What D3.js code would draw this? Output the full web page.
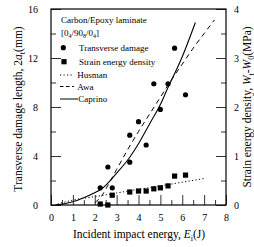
<!DOCTYPE html>
<html><head><meta charset="utf-8">
<script src="https://cdn.jsdelivr.net/npm/d3@7"></script>
<style>body{margin:0;background:#fff;} svg{display:block;} text{font-family:"Liberation Serif","Times New Roman",serif;fill:#000;}</style>
</head><body>
<svg id="c" width="254" height="247"></svg>
<script>
// Transverse damage (circles): impact energy (J) and 2a_t (mm)
const damageE = [2.25, 2.6, 2.8, 3.6, 3.6, 4.0, 4.35, 4.7, 5.0, 5.35, 5.65, 6.15];
const damageA = [1.4, 3.1, 1.4, 3.5, 5.7, 6.8, 4.9, 9.9, 7.8, 9.9, 12.8, 9.0];
// Strain energy density (squares): impact energy (J) and W (MPa)
const sedE = [2.25, 2.6, 2.8, 3.6, 4.0, 4.35, 4.7, 5.0, 5.35, 5.65, 6.15];
const sedW = [0.02, 0.0, 0.2, 0.265, 0.285, 0.285, 0.33, 0.35, 0.39, 0.59, 0.61];
// Husman (dotted, right axis, MPa)
const husmanE = [0.3, 1, 2, 3, 4, 5, 6, 7];
const husmanW = [0.02, 0.1, 0.17, 0.245, 0.32, 0.39, 0.465, 0.54];
// Awa (dashed, left axis, mm)
const awaE = [2.0, 2.3, 2.6, 3.0, 3.5, 4.0, 4.5, 5.0, 5.5, 6.0, 6.5, 7.0, 7.47];
const awaA = [0.2, 0.7, 1.6, 2.9, 4.5, 6.0, 7.4, 8.8, 10.2, 11.5, 12.8, 14.0, 15.1];
// Caprino (solid, left axis, mm)
const caprinoE = [0.2, 1.0, 1.5, 2.0, 2.3, 3.0, 3.6, 4.0, 4.5, 5.0, 5.3, 6.0, 6.6];
const caprinoA = [0.0, 0.27, 0.6, 1.0, 1.3, 2.6, 3.9, 5.0, 6.6, 8.2, 9.4, 12.1, 14.9];
// Ticks
const xTicks = [0, 1, 2, 3, 4, 5, 6, 7, 8];
const yLeftTicks = [0, 4, 8, 12, 16];
const yRightTicks = [0, 1, 2, 3, 4];

const svg = d3.select("#c");
const L = 51, R = 226, T = 9, B = 205;
const x = d3.scaleLinear().domain([0, 8]).range([L, R]);
const y = d3.scaleLinear().domain([0, 16]).range([B, T]);
const yR = d3.scaleLinear().domain([0, 4]).range([B, T]);

function styleAxis(g) {
  g.select(".domain").remove();
  g.selectAll(".tick line").attr("stroke", "#333").attr("stroke-width", 1);
  g.selectAll(".tick text").style("font-family", '"Liberation Serif",serif').style("font-size", "10px").attr("fill", "#000");
}
// minor ticks
const xMinor = d3.range(0.5, 8, 1);
svg.append("g").attr("transform", `translate(0,${B})`)
  .call(d3.axisBottom(x).tickValues(xMinor).tickSize(-5).tickFormat("")).call(styleAxis);
svg.append("g").attr("transform", `translate(0,${B})`)
  .call(d3.axisBottom(x).tickValues(xTicks).tickSize(-10).tickPadding(9).tickFormat(d3.format("d"))).call(styleAxis);
svg.append("g").attr("transform", `translate(${L},0)`)
  .call(d3.axisLeft(y).tickValues([2, 6, 10, 14]).tickSize(-5).tickFormat("")).call(styleAxis);
svg.append("g").attr("transform", `translate(${L},0)`)
  .call(d3.axisLeft(y).tickValues(yLeftTicks).tickSize(-10).tickPadding(13).tickFormat(d3.format("d"))).call(styleAxis);
svg.append("g").attr("transform", `translate(${R},0)`)
  .call(d3.axisRight(yR).tickValues([0.5, 1.5, 2.5, 3.5]).tickSize(-5).tickFormat("")).call(styleAxis);
svg.append("g").attr("transform", `translate(${R},0)`)
  .call(d3.axisRight(yR).tickValues(yRightTicks).tickSize(-10).tickPadding(8).tickFormat(d3.format("d"))).call(styleAxis);

// frame
svg.append("rect").attr("x", L).attr("y", T).attr("width", R - L).attr("height", B - T)
  .attr("fill", "none").attr("stroke", "#000").attr("stroke-width", 1.2);

// curves
const lineL = d3.line().x(d => x(d[0])).y(d => y(d[1])).curve(d3.curveMonotoneX);
const lineR = d3.line().x(d => x(d[0])).y(d => yR(d[1])).curve(d3.curveMonotoneX);
svg.append("path").attr("d", lineR(husmanE.map((e, i) => [e, husmanW[i]])))
  .attr("fill", "none").attr("stroke", "#000").attr("stroke-width", 1).attr("stroke-dasharray", "1.2,2.3");
svg.append("path").attr("d", lineL(awaE.map((e, i) => [e, awaA[i]])))
  .attr("fill", "none").attr("stroke", "#000").attr("stroke-width", 1).attr("stroke-dasharray", "5,4");
svg.append("path").attr("d", lineL(caprinoE.map((e, i) => [e, caprinoA[i]])))
  .attr("fill", "none").attr("stroke", "#000").attr("stroke-width", 1.1);

// markers
svg.append("g").selectAll("circle").data(damageE.map((e, i) => [e, damageA[i]])).join("circle")
  .attr("cx", d => x(d[0])).attr("cy", d => y(d[1])).attr("r", 2.6).attr("fill", "#000");
svg.append("g").selectAll("rect").data(sedE.map((e, i) => [e, sedW[i]])).join("rect")
  .attr("x", d => x(d[0]) - 2.6).attr("y", d => yR(d[1]) - 2.6).attr("width", 5.2).attr("height", 5.2).attr("fill", "#000");

// legend
const lg = svg.append("g").style("font-size", "9px");
lg.append("text").attr("x", 61).attr("y", 23).text("Carbon/Epoxy laminate");
const lam = lg.append("text").attr("x", 61).attr("y", 36);
lam.append("tspan").text("[0");
lam.append("tspan").attr("dy", 2).style("font-size", "6px").text("4");
lam.append("tspan").attr("dy", -2).text("/90");
lam.append("tspan").attr("dy", 2).style("font-size", "6px").text("8");
lam.append("tspan").attr("dy", -2).text("/0");
lam.append("tspan").attr("dy", 2).style("font-size", "6px").text("4");
lam.append("tspan").attr("dy", -2).text("]");
lg.append("circle").attr("cx", 63.3).attr("cy", 47.7).attr("r", 2.6).attr("fill", "#000");
lg.append("text").attr("x", 79).attr("y", 50.7).text("Transverse damage");
lg.append("rect").attr("x", 61.4).attr("y", 59.1).attr("width", 5.2).attr("height", 5.2).attr("fill", "#000");
lg.append("text").attr("x", 79).attr("y", 64.7).text("Strain energy density");
lg.append("line").attr("x1", 60).attr("x2", 74).attr("y1", 75).attr("y2", 75).attr("stroke", "#000").attr("stroke-dasharray", "1.2,2.3");
lg.append("text").attr("x", 77.3).attr("y", 78).text("Husman");
lg.append("line").attr("x1", 60).attr("x2", 74).attr("y1", 86.5).attr("y2", 86.5).attr("stroke", "#000").attr("stroke-dasharray", "3.5,2.5");
lg.append("text").attr("x", 77.3).attr("y", 89.5).text("Awa");
lg.append("line").attr("x1", 60).attr("x2", 78).attr("y1", 99).attr("y2", 99).attr("stroke", "#000");
lg.append("text").attr("x", 78.3).attr("y", 102).text("Caprino");

// axis titles
const xt = svg.append("text").attr("x", 139).attr("y", 238).attr("text-anchor", "middle").style("font-size", "11.5px");
xt.append("tspan").text("Incident impact energy, ");
xt.append("tspan").style("font-style", "italic").text("E");
xt.append("tspan").attr("dy", 2.5).style("font-size", "8px").text("i");
xt.append("tspan").attr("dy", -2.5).text("(J)");

const lt = svg.append("text").attr("transform", "translate(22,109) rotate(-90)").attr("text-anchor", "middle").style("font-size", "11.5px");
lt.append("tspan").text("Transverse damage length, 2");
lt.append("tspan").style("font-style", "italic").text("a");
lt.append("tspan").attr("dy", 2.5).style("font-size", "8px").text("t");
lt.append("tspan").attr("dy", -2.5).text("(mm)");

const rt = svg.append("text").attr("transform", "translate(251,107) rotate(-90)").attr("text-anchor", "middle").style("font-size", "11.5px");
rt.append("tspan").text("Strain energy density, ");
rt.append("tspan").style("font-style", "italic").text("W");
rt.append("tspan").attr("dy", 2.5).style("font-size", "8px").text("t");
rt.append("tspan").attr("dy", -2.5).text("-");
rt.append("tspan").style("font-style", "italic").text("W");
rt.append("tspan").attr("dy", 2.5).style("font-size", "8px").text("0");
rt.append("tspan").attr("dy", -2.5).text("(MPa)");
</script>
</body></html>
